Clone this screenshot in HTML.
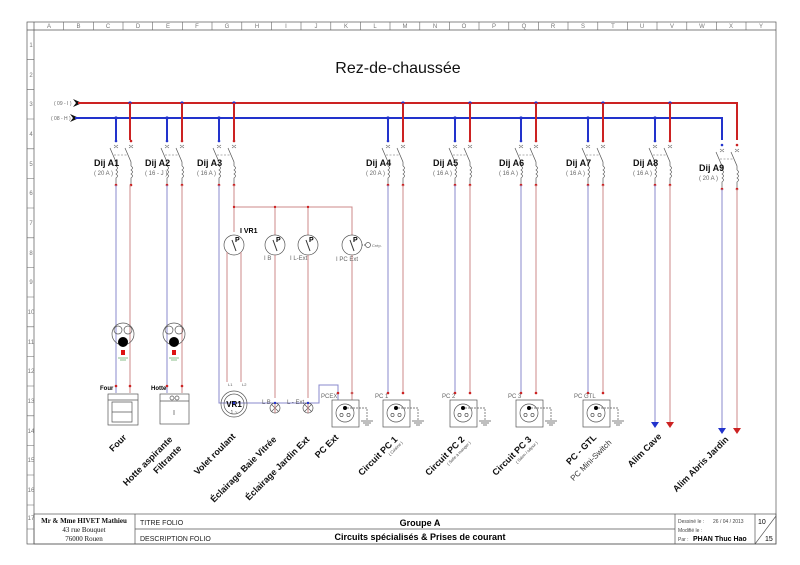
<!DOCTYPE html>
<html><head><meta charset="utf-8"><style>
html,body{margin:0;padding:0;background:#fff;}
svg{display:block;font-family:"Liberation Sans",sans-serif;}
.g{stroke:#555;stroke-width:0.7;fill:none}
.b{stroke:#2233cc;stroke-width:2}
.r{stroke:#cc2222;stroke-width:2}
.bl{stroke:#8888cc;stroke-width:1}
.rl{stroke:#cc8888;stroke-width:1}
.t{font-size:6px;fill:#666}
.lb{font-size:9px;font-weight:bold;fill:#111}
</style></head><body>
<svg width="800" height="565" viewBox="0 0 800 565" xmlns="http://www.w3.org/2000/svg">
<defs>
<g id="brk">
 <circle cx="0" cy="141" r="1.3" fill="#2233cc"/><circle cx="15" cy="141" r="1.3" fill="#cc2222"/>
 <path d="M-2,145l4,3M2,145l-4,3M13,145l4,3M17,145l-4,3" stroke="#666" stroke-width="0.6"/>
 <path d="M-6,148L0,162V166M9,148L15,162V166" class="g"/>
 <path d="M-2,155H12" stroke="#666" stroke-width="0.6" stroke-dasharray="2,1.5" fill="none"/>
 <path d="M0,166q3,2 0,4q3,2 0,4q3,2 0,4V185M15,166q3,2 0,4q3,2 0,4q3,2 0,4V185" class="g"/>
 <circle cx="0" cy="185" r="1.3" fill="#cc2222"/><circle cx="15" cy="185" r="1.3" fill="#cc2222"/>
</g>
<g id="sock">
 <rect x="-5" y="0" width="27" height="27" class="g" fill="#fff"/>
 <circle cx="8" cy="13" r="9" class="g"/>
 <circle cx="8" cy="8" r="2" fill="#000"/>
 <circle cx="4.5" cy="15" r="1.6" class="g"/><circle cx="11.5" cy="15" r="1.6" class="g"/>
 <path d="M10,8H30V20" stroke="#555" stroke-width="0.7" stroke-dasharray="2,1" fill="none"/>
 <path d="M24,21H36M26,23H34M28,25H32" class="g"/>
</g>
<g id="sw">
 <circle cx="0" cy="0" r="10" class="g" fill="#fff"/>
 <path d="M-2,-5L2,6" stroke="#333" stroke-width="1"/>
 <text x="1" y="-3" font-size="7" font-weight="bold">P</text>
</g>
</defs>

<!-- frame -->
<rect x="27" y="22" width="749" height="522" class="g" stroke="#444"/>
<line x1="27" y1="30" x2="776" y2="30" class="g"/>
<line x1="34" y1="22" x2="34" y2="544" class="g"/>
<g font-size="6" fill="#777" text-anchor="middle">
<text x="49" y="28">A</text><text x="78.5" y="28">B</text><text x="108" y="28">C</text><text x="138" y="28">D</text><text x="168" y="28">E</text><text x="197" y="28">F</text><text x="227" y="28">G</text><text x="257" y="28">H</text><text x="286" y="28">I</text><text x="316" y="28">J</text><text x="346" y="28">K</text><text x="375" y="28">L</text><text x="405" y="28">M</text><text x="435" y="28">N</text><text x="464" y="28">O</text><text x="494" y="28">P</text><text x="524" y="28">Q</text><text x="553" y="28">R</text><text x="583" y="28">S</text><text x="613" y="28">T</text><text x="642" y="28">U</text><text x="672" y="28">V</text><text x="702" y="28">W</text><text x="731" y="28">X</text><text x="761" y="28">Y</text>
<text x="31" y="47">1</text><text x="31" y="77">2</text><text x="31" y="106">3</text><text x="31" y="136">4</text><text x="31" y="166">5</text><text x="31" y="195">6</text><text x="31" y="225">7</text><text x="31" y="255">8</text><text x="31" y="284">9</text><text x="31" y="314">10</text><text x="31" y="344">11</text><text x="31" y="373">12</text><text x="31" y="403">13</text><text x="31" y="433">14</text><text x="31" y="462">15</text><text x="31" y="492">16</text><text x="31" y="520">17</text>
</g>
<g stroke="#666" stroke-width="0.6">
<path d="M63.7,22v8M93.4,22v8M123,22v8M152.7,22v8M182.4,22v8M212,22v8M241.8,22v8M271.4,22v8M301,22v8M330.8,22v8M360.5,22v8M390,22v8M419.8,22v8M449.5,22v8M479,22v8M508.8,22v8M538.5,22v8M568,22v8M597.8,22v8M627.5,22v8M657,22v8M686.8,22v8M716.5,22v8M746,22v8"/>
<path d="M27,59.7h7M27,89.4h7M27,119h7M27,148.8h7M27,178.5h7M27,208h7M27,237.8h7M27,267.5h7M27,297h7M27,326.8h7M27,356.5h7M27,386h7M27,415.8h7M27,445.5h7M27,475h7M27,505h7M27,529h7"/>
</g>

<text x="398" y="73" font-size="16" text-anchor="middle" fill="#111">Rez-de-chaussée</text>

<!-- bus -->
<text x="54" y="105" font-size="5" fill="#666">( 09 - I )</text>
<text x="51" y="120" font-size="5" fill="#666">( 08 - H )</text>
<path d="M73,99L82,103L73,107L76,103Z M70,114L79,118L70,122L73,118Z" fill="#111"/>
<path d="M78,103H737V140" class="r" fill="none"/>
<path d="M75,118H722V140" class="b" fill="none"/>
<g fill="#2233cc">
<circle cx="130" cy="103" r="1.6"/><circle cx="182" cy="103" r="1.6"/><circle cx="234" cy="103" r="1.6"/><circle cx="403" cy="103" r="1.6"/><circle cx="470" cy="103" r="1.6"/><circle cx="536" cy="103" r="1.6"/><circle cx="603" cy="103" r="1.6"/><circle cx="670" cy="103" r="1.6"/>
<circle cx="116" cy="118" r="1.6"/><circle cx="167" cy="118" r="1.6"/><circle cx="219" cy="118" r="1.6"/><circle cx="388" cy="118" r="1.6"/><circle cx="455" cy="118" r="1.6"/><circle cx="521" cy="118" r="1.6"/><circle cx="588" cy="118" r="1.6"/><circle cx="655" cy="118" r="1.6"/>
</g>
<g>
<path d="M130,103V140M182,103V140M234,103V140M403,103V140M470,103V140M536,103V140M603,103V140M670,103V140" class="r"/>
<path d="M116,118V140M167,118V140M219,118V140M388,118V140M455,118V140M521,118V140M588,118V140M655,118V140" class="b"/>
</g>

<!-- breakers -->
<use href="#brk" x="116"/><use href="#brk" x="167"/><use href="#brk" x="219"/><use href="#brk" x="388"/><use href="#brk" x="455"/><use href="#brk" x="521"/><use href="#brk" x="588"/><use href="#brk" x="655"/><use href="#brk" x="722" y="4"/>
<g class="lb">
<text x="94" y="166">Dij A1</text><text x="145" y="166">Dij A2</text><text x="197" y="166">Dij A3</text><text x="366" y="166">Dij A4</text><text x="433" y="166">Dij A5</text><text x="499" y="166">Dij A6</text><text x="566" y="166">Dij A7</text><text x="633" y="166">Dij A8</text><text x="699" y="171">Dij A9</text>
</g>
<g class="t">
<text x="94" y="175">( 20 A )</text><text x="145" y="175">( 16 - J )</text><text x="197" y="175">( 16 A )</text><text x="366" y="175">( 20 A )</text><text x="433" y="175">( 16 A )</text><text x="499" y="175">( 16 A )</text><text x="566" y="175">( 16 A )</text><text x="633" y="175">( 16 A )</text><text x="699" y="180">( 20 A )</text>
</g>

<!-- downlines -->
<path d="M116,185V393M167,185V393M388,185V393M455,185V393M521,185V393M588,185V393M655,185V422M722,189V428M219,185V403H319V385H338V400" class="bl" fill="none"/>
<path d="M130,185V393M182,185V393M403,185V393M470,185V393M536,185V393M603,185V393M670,185V422M737,189V428M234,185V207H352V235M234,207V232M275,207V235M308,207V235" class="rl" fill="none"/>
<path d="M651,422h8l-4,6z M718,428h8l-4,6z" fill="#2233cc"/>
<path d="M666,422h8l-4,6z M733,428h8l-4,6z" fill="#cc2222"/>
<g fill="#cc2222">
<circle cx="234" cy="207" r="1.2"/><circle cx="275" cy="207" r="1.2"/><circle cx="308" cy="207" r="1.2"/>
<circle cx="116" cy="386" r="1.3"/><circle cx="130" cy="386" r="1.3"/><circle cx="167" cy="386" r="1.3"/><circle cx="182" cy="386" r="1.3"/>
<circle cx="388" cy="393" r="1.3"/><circle cx="403" cy="393" r="1.3"/><circle cx="455" cy="393" r="1.3"/><circle cx="470" cy="393" r="1.3"/><circle cx="521" cy="393" r="1.3"/><circle cx="536" cy="393" r="1.3"/><circle cx="588" cy="393" r="1.3"/><circle cx="603" cy="393" r="1.3"/><circle cx="338" cy="393" r="1.3"/><circle cx="352" cy="393" r="1.3"/>
</g>

<!-- switches -->
<use href="#sw" x="234" y="245"/><use href="#sw" x="275" y="245"/><use href="#sw" x="308" y="245"/><use href="#sw" x="352" y="245"/>
<path d="M227,252V382M241,252V382M275,255V398M308,255V398M352,255V400" class="rl" fill="none"/>
<text x="240" y="233" font-size="7" font-weight="bold">I VR1</text>
<text x="264" y="260" class="t">I B</text><text x="290" y="260" class="t">I L-Ext</text><text x="336" y="261" class="t">I PC Ext</text>
<path d="M362,245H366" stroke="#555" stroke-dasharray="1,1"/><circle cx="368" cy="245" r="2.5" class="g"/><text x="372" y="247" font-size="4" fill="#666">Crép.</text>

<!-- VR1 motor -->
<circle cx="234" cy="404" r="13" class="g"/><circle cx="234" cy="404" r="10" class="g"/>
<text x="234" y="407" font-size="8" font-weight="bold" text-anchor="middle">VR1</text>
<text x="234" y="414" font-size="5" text-anchor="middle" fill="#555">1 ~</text>
<text x="228" y="386" font-size="4" fill="#555">L1</text><text x="242" y="386" font-size="4" fill="#555">L2</text>
<!-- lamps -->
<circle cx="275" cy="408" r="5" class="g"/><path d="M271.5,404.5l7,7M278.5,404.5l-7,7" class="g"/>
<circle cx="308" cy="408" r="5" class="g"/><path d="M304.5,404.5l7,7M311.5,404.5l-7,7" class="g"/>
<path d="M275,413V403M308,413V403" class="rl"/>
<text x="262" y="404" class="t">L B</text><text x="287" y="404" class="t">L - Ext</text>
<g fill="#2233cc"><circle cx="234" cy="403" r="1.2"/><circle cx="275" cy="403" r="1.2"/><circle cx="308" cy="403" r="1.2"/></g>

<!-- sockets -->
<use href="#sock" x="337" y="400"/><use href="#sock" x="388" y="400"/><use href="#sock" x="455" y="400"/><use href="#sock" x="521" y="400"/><use href="#sock" x="588" y="400"/>
<g class="t"><text x="321" y="398">PCEX</text><text x="375" y="398">PC 1</text><text x="442" y="398">PC 2</text><text x="508" y="398">PC 3</text><text x="574" y="398">PC GTL</text></g>

<!-- four / hotte sockets -->
<g>
<circle cx="123" cy="334" r="11" class="g"/><circle cx="118" cy="330" r="4" class="g"/><circle cx="128" cy="330" r="4" class="g"/><circle cx="123" cy="342" r="5" fill="#000"/>
<rect x="121" y="350" width="4" height="5" fill="#dd1111"/><path d="M118,358h10M120,360h6" stroke="#6a6" stroke-width="0.7"/>
<circle cx="174" cy="334" r="11" class="g"/><circle cx="169" cy="330" r="4" class="g"/><circle cx="179" cy="330" r="4" class="g"/><circle cx="174" cy="342" r="5" fill="#000"/>
<rect x="172" y="350" width="4" height="5" fill="#dd1111"/><path d="M169,358h10M171,360h6" stroke="#6a6" stroke-width="0.7"/>
</g>
<text x="100" y="390" font-size="6" font-weight="bold">Four</text>
<text x="151" y="390" font-size="6" font-weight="bold">Hotte</text>
<rect x="108" y="394" width="30" height="31" class="g" fill="#fff"/>
<path d="M108,400H138M112,402h20v20h-20zM112,412h20" class="g"/>
<rect x="160" y="394" width="29" height="30" class="g" fill="#fff"/>
<path d="M160,401H189M174,410v5" class="g"/>
<circle cx="172" cy="398" r="2" class="g"/><circle cx="177" cy="398" r="2" class="g"/>

<!-- rotated labels -->
<g class="lb" text-anchor="end">
<text transform="translate(127,438) rotate(-45)">Four</text>
<text transform="translate(173,440) rotate(-45)">Hotte aspirante</text>
<text transform="translate(182,449) rotate(-45)">Filtrante</text>
<text transform="translate(236,437) rotate(-45)">Volet roulant</text>
<text transform="translate(277,440) rotate(-45)">Éclairage Baie Vitrée</text>
<text transform="translate(310,440) rotate(-45)">Éclairage Jardin Ext</text>
<text transform="translate(339,438) rotate(-45)">PC Ext</text>
<text transform="translate(398,440) rotate(-45)">Circuit PC 1</text>
<text transform="translate(465,440) rotate(-45)">Circuit PC 2</text>
<text transform="translate(532,440) rotate(-45)">Circuit PC 3</text>
<text transform="translate(597,438) rotate(-45)">PC - GTL</text>
<text transform="translate(662,437) rotate(-45)">Alim Cave</text>
<text transform="translate(729,440) rotate(-45)">Alim Abris Jardin</text>
</g>
<g text-anchor="end" fill="#333">
<text font-size="8" transform="translate(612,443) rotate(-45)">PC Mini-Switch</text>
<text font-size="4" transform="translate(403,443) rotate(-45)">( Cuisine )</text>
<text font-size="4" transform="translate(471,443) rotate(-45)">( Salle à manger )</text>
<text font-size="4" transform="translate(538,443) rotate(-45)">( Salon / séjour )</text>
</g>

<!-- title block -->
<rect x="34" y="514" width="742" height="30" class="g" fill="#fff"/>
<path d="M135,514V544M675,514V544M755,514V544M135,529H675M755,544L776,516" class="g"/>
<g font-family="Liberation Serif,serif" font-size="7" text-anchor="middle" fill="#111">
<text x="84" y="523" font-weight="bold">Mr &amp; Mme HIVET Mathieu</text>
<text x="84" y="532">43 rue Bouquet</text>
<text x="84" y="541">76000 Rouen</text>
</g>
<text x="140" y="525" font-size="7" fill="#222">TITRE FOLIO</text>
<text x="140" y="541" font-size="7" fill="#222">DESCRIPTION FOLIO</text>
<text x="420" y="526" font-size="9" font-weight="bold" text-anchor="middle">Groupe  A</text>
<text x="420" y="540" font-size="9" font-weight="bold" text-anchor="middle">Circuits spécialisés &amp; Prises de courant</text>
<g font-size="5" fill="#444"><text x="678" y="523">Dessiné le :</text><text x="678" y="532">Modifié le :</text><text x="678" y="541">Par :</text><text x="713" y="523">26 / 04 / 2013</text></g>
<text x="693" y="541" font-size="7" font-weight="bold">PHAN Thuc Hao</text>
<text x="758" y="524" font-size="7">10</text><text x="765" y="541" font-size="7">15</text>
</svg>
</body></html>
